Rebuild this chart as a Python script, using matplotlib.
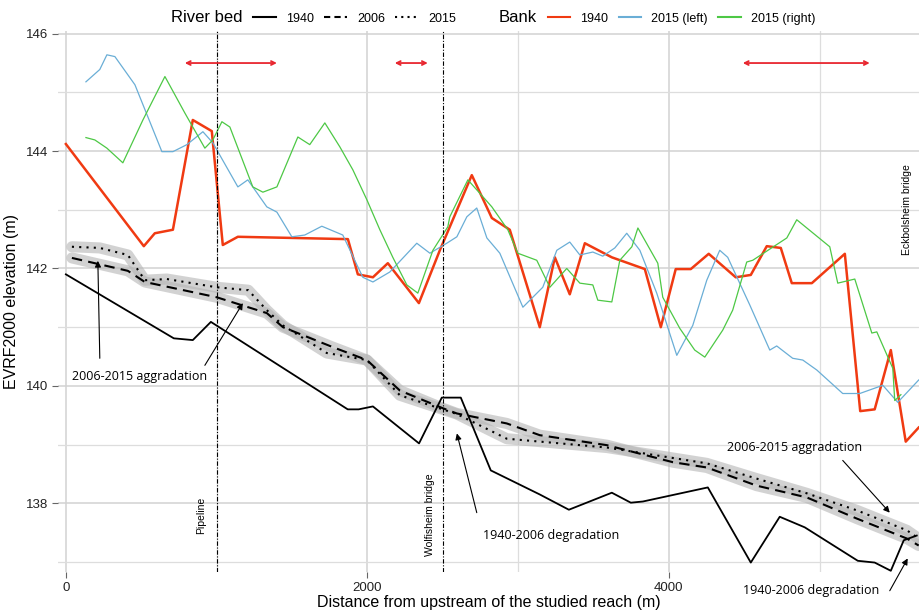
import numpy as np
import matplotlib.pyplot as plt
from matplotlib.lines import Line2D

plt.rcParams['font.family'] = ['Liberation Sans', 'DejaVu Sans']

# river bed profiles (distance m, elevation m)
bed1940_x = [0, 716, 842, 962, 1870, 1942, 2037, 2343, 2494, 2620, 2819, 3144, 3337,
             3622, 3748, 3828, 4259, 4544, 4736, 4902, 5254, 5366, 5473, 5559, 5645]
bed1940_y = [141.90, 140.81, 140.78, 141.09, 139.60, 139.60, 139.65, 139.02, 139.80, 139.80,
             138.56, 138.15, 137.89, 138.18, 138.01, 138.03, 138.27, 136.99, 137.77, 137.59,
             137.02, 136.99, 136.85, 137.37, 137.45]

bed2006_x = [40, 411, 524, 1000, 1333, 1440, 1771, 1997, 2216, 2500, 2594, 2925, 3144,
             3589, 4027, 4252, 4583, 4915, 5247, 5579, 5658]
bed2006_y = [142.18, 141.96, 141.77, 141.51, 141.24, 141.00, 140.66, 140.44, 139.92, 139.62,
             139.53, 139.36, 139.16, 138.99, 138.70, 138.61, 138.30, 138.10, 137.74, 137.40, 137.28]

bed2015_x = [40, 225, 411, 524, 670, 1000, 1210, 1333, 1440, 1731, 1997, 2216, 2500, 2594,
             2925, 3589, 4252, 4583, 4915, 5247, 5579, 5658]
bed2015_y = [142.37, 142.35, 142.23, 141.80, 141.82, 141.68, 141.63, 141.29, 141.03, 140.56,
             140.44, 139.84, 139.60, 139.52, 139.10, 138.95, 138.68, 138.42, 138.17, 137.88,
             137.54, 137.40]

# bank profiles
bank1940_x = [0, 517, 590, 710, 842, 968, 1041, 1141, 1871, 1937, 2037, 2136, 2342, 2481,
              2693, 2826, 2945, 3144, 3244, 3343, 3443, 3622, 3841, 3947, 4046, 4146, 4265,
              4444, 4544, 4650, 4743, 4816, 4949, 5168, 5270, 5366, 5473, 5572, 5658]
bank1940_y = [144.12, 142.38, 142.60, 142.66, 144.53, 144.34, 142.40, 142.54, 142.50, 141.90,
              141.85, 142.09, 141.41, 142.31, 143.59, 142.86, 142.66, 141.00, 142.19, 141.56,
              142.43, 142.19, 141.99, 141.00, 141.99, 141.99, 142.25, 141.85, 141.89, 142.38,
              142.35, 141.75, 141.75, 142.25, 139.57, 139.60, 140.61, 139.05, 139.29]

left2015_x = [133, 225, 272, 325, 458, 637, 710, 803, 909, 975, 1141, 1207, 1333, 1400, 1499,
              1585, 1698, 1837, 1970, 2037, 2149, 2328, 2415, 2527, 2594, 2660, 2726, 2793,
              2879, 3032, 3164, 3257, 3343, 3410, 3496, 3562, 3642, 3721, 3808, 3920, 4053,
              4159, 4252, 4338, 4391, 4537, 4670, 4716, 4822, 4889, 4982, 5154, 5267, 5420,
              5519, 5658]
left2015_y = [145.18, 145.39, 145.64, 145.61, 145.13, 143.99, 143.99, 144.11, 144.33, 144.14,
              143.39, 143.51, 143.05, 142.96, 142.54, 142.57, 142.72, 142.57, 141.85, 141.77,
              141.94, 142.43, 142.26, 142.43, 142.54, 142.88, 143.03, 142.52, 142.26, 141.34,
              141.68, 142.31, 142.45, 142.23, 142.28, 142.21, 142.35, 142.60, 142.31, 141.58,
              140.52, 141.03, 141.80, 142.31, 142.19, 141.38, 140.61, 140.68, 140.47, 140.44,
              140.27, 139.87, 139.87, 140.01, 139.72, 140.10]

right2015_x = [133, 192, 272, 378, 511, 657, 789, 842, 922, 975, 1035, 1088, 1240, 1307, 1400,
               1539, 1618, 1718, 1818, 1904, 1997, 2083, 2169, 2262, 2335, 2435, 2534, 2547,
               2667, 2826, 2932, 2998, 3124, 3211, 3323, 3410, 3496, 3529, 3622, 3675, 3755,
               3795, 3927, 3960, 4073, 4172, 4239, 4358, 4424, 4517, 4557, 4783, 4849, 5068,
               5121, 5234, 5347, 5380, 5486, 5499, 5540]
right2015_y = [144.23, 144.19, 144.05, 143.80, 144.53, 145.27, 144.65, 144.41, 144.05, 144.19,
               144.50, 144.41, 143.39, 143.30, 143.39, 144.24, 144.11, 144.48, 144.07, 143.68,
               143.17, 142.66, 142.19, 141.72, 141.58, 142.31, 142.71, 142.88, 143.51, 143.05,
               142.66, 142.26, 142.14, 141.68, 142.00, 141.75, 141.72, 141.46, 141.43, 142.14,
               142.37, 142.69, 142.09, 141.51, 140.98, 140.61, 140.49, 140.95, 141.29, 142.11,
               142.14, 142.52, 142.83, 142.37, 141.75, 141.82, 140.90, 140.92, 140.30, 139.75,
               139.85]

# red double arrows (start, end) at a common elevation
span_start = [789, 2182, 4491]
span_end = [1400, 2401, 5333]
span_y = 145.5

structures_x = [1000, 2500]

fig = plt.figure(figsize=(9.19, 6.15), dpi=100)
ax = fig.add_axes([0.063, 0.070, 0.937, 0.880])

ax.set_xlim(-53, 5660)
ax.set_ylim(136.83, 146.05)
ax.set_xticks([0, 2000, 4000])
ax.set_xticks([1000, 3000, 5000], minor=True)
ax.set_yticks([138, 140, 142, 144, 146])
ax.set_yticks([137, 139, 141, 143, 145], minor=True)
ax.grid(which='major', color='#d2d2d2', lw=1.1)
ax.grid(which='minor', color='#dddddd', lw=0.9)
ax.set_axisbelow(True)
for s in ax.spines.values():
    s.set_visible(False)
ax.tick_params(which='major', length=4, width=0.8, color='#666666', labelsize=9.5,
               labelcolor='#222222', pad=3)
ax.tick_params(which='minor', length=0)

# grey ribbons under the recent profiles
ax.plot(bed2006_x, bed2006_y, color='#b5b5b5', lw=8, alpha=0.6, solid_capstyle='round')
ax.plot(bed2015_x, bed2015_y, color='#b5b5b5', lw=8, alpha=0.6, solid_capstyle='round')

ax.plot(bank1940_x, bank1940_y, color='#f03a12', lw=1.8)
ax.plot(left2015_x, left2015_y, color='#6aaed6', lw=0.9)
ax.plot(right2015_x, right2015_y, color='#4dc845', lw=0.9)

ax.plot(bed1940_x, bed1940_y, color='black', lw=1.3)
ax.plot(bed2006_x, bed2006_y, color='black', lw=1.5, ls=(0, (5, 3)))
ax.plot(bed2015_x, bed2015_y, color='black', lw=1.5, ls=(0, (1, 2.5)))

for xs in structures_x:
    ax.axvline(xs, color='black', lw=0.8, ls=(0, (4, 1.5, 1, 1.5)))

for a, b in zip(span_start, span_end):
    ax.annotate('', xy=(a, span_y), xytext=(b, span_y),
                arrowprops=dict(arrowstyle='<->', color='#e8262f', lw=1.3,
                                mutation_scale=7, shrinkA=0, shrinkB=0))

ax.text(896, 137.79, 'Pipeline', rotation=90, fontsize=7.5, ha='center', va='center')
ax.text(2415, 137.8, 'Wolfisheim bridge', rotation=90, fontsize=7.5, ha='center', va='center')
ax.text(5579, 143.0, 'Eckbolsheim bridge', rotation=90, fontsize=7.5, ha='center', va='center')

afont = dict(fontsize=9, family=['Open Sans', 'DejaVu Sans'], ha='center', va='center')
arr = dict(arrowstyle='-|>', color='black', lw=0.8, mutation_scale=9, shrinkA=0, shrinkB=0)
ax.text(490, 140.16, '2006-2015 aggradation', **afont)
ax.annotate('', xy=(212, 142.13), xytext=(225, 140.47), arrowprops=arr)
ax.annotate('', xy=(1174, 141.41), xytext=(922, 140.35), arrowprops=arr)

ax.text(3217, 137.45, '1940-2006 degradation', **afont)
ax.annotate('', xy=(2594, 139.19), xytext=(2726, 137.84), arrowprops=arr)

ax.text(4836, 138.95, '2006-2015 aggradation', **afont)
ax.annotate('', xy=(5466, 137.84), xytext=(5154, 138.73), arrowprops=arr)

ax.text(4942, 136.51, '1940-2006 degradation', clip_on=False, **afont)
ax.annotate('', xy=(5585, 137.06), xytext=(5466, 136.51), arrowprops=arr,
            annotation_clip=False)

ax.set_xlabel('Distance from upstream of the studied reach (m)', fontsize=11.5, labelpad=1)
ax.set_ylabel('EVRF2000 elevation (m)', fontsize=11.5, labelpad=5)

blank = Line2D([], [], color='none')
handles = [blank,
           Line2D([], [], color='black', lw=1.5),
           Line2D([], [], color='black', lw=1.5, ls=(0, (3, 2))),
           Line2D([], [], color='black', lw=1.5, ls=(0, (1, 2))),
           blank,
           Line2D([], [], color='#f03a12', lw=1.5),
           Line2D([], [], color='#6aaed6', lw=1.5),
           Line2D([], [], color='#4dc845', lw=1.5)]
labels = ['River bed', '1940', '2006', '2015', 'Bank', '1940', '2015 (left)', '2015 (right)']
leg = fig.legend(handles, labels, loc='center', bbox_to_anchor=(0.519, 0.972), ncol=8,
                 frameon=False, fontsize=9, handlelength=1.8, handletextpad=0.8,
                 columnspacing=0.85)
leg.get_texts()[0].set_fontsize(12)
leg.get_texts()[4].set_fontsize(12)

fig.savefig('out.png', dpi=100)
